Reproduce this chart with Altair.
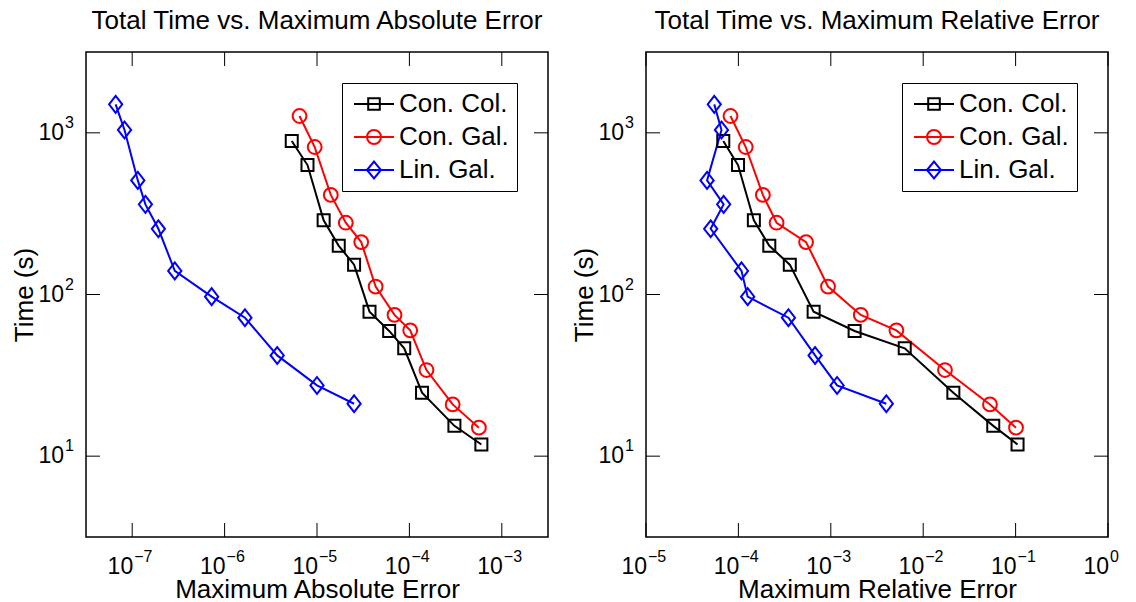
import altair as alt
import pandas as pd

# ---------------- data ----------------
SERIES = ["Con. Col.", "Con. Gal.", "Lin. Gal."]
COLORS = ["#000000", "#ff0000", "#0000ff"]

time_col = [891, 632, 288, 200, 153, 78.3, 59.5, 46.5, 24.7, 15.4, 11.8]
time_gal = [1271, 817, 413, 278, 211, 112, 74.8, 60.0, 34.1, 20.9, 15.0]
time_lin = [1500, 1042, 508, 361, 255, 140, 97, 71.9, 42.0, 27.4, 21.1]

abs_col = [5.33e-6, 7.89e-6, 1.18e-5, 1.72e-5, 2.52e-5, 3.70e-5, 6.04e-5, 8.79e-5, 1.37e-4, 3.07e-4, 6.01e-4]
abs_gal = [6.47e-6, 9.44e-6, 1.41e-5, 2.05e-5, 3.01e-5, 4.31e-5, 6.90e-5, 1.02e-4, 1.53e-4, 2.94e-4, 5.65e-4]
abs_lin = [6.62e-8, 8.26e-8, 1.15e-7, 1.39e-7, 1.92e-7, 2.89e-7, 7.24e-7, 1.66e-6, 3.71e-6, 1.00e-5, 2.52e-5]

rel_col = [6.86e-5, 9.91e-5, 1.47e-4, 2.16e-4, 3.60e-4, 6.52e-4, 1.81e-3, 6.31e-3, 2.12e-2, 5.73e-2, 0.105]
rel_gal = [8.21e-5, 1.20e-4, 1.84e-4, 2.59e-4, 5.40e-4, 9.33e-4, 2.11e-3, 5.13e-3, 1.72e-2, 5.28e-2, 0.101]
rel_lin = [5.48e-5, 6.56e-5, 4.58e-5, 6.92e-5, 5.01e-5, 1.08e-4, 1.26e-4, 3.48e-4, 6.76e-4, 1.17e-3, 3.99e-3]

abs_ticks = [1e-7, 1e-6, 1e-5, 1e-4, 1e-3]
abs_exps = ["\u22127", "\u22126", "\u22125", "\u22124", "\u22123"]
rel_ticks = [1e-5, 1e-4, 1e-3, 1e-2, 1e-1, 1e0]
rel_exps = ["\u22125", "\u22124", "\u22123", "\u22122", "\u22121", "0"]
y_ticks = [10, 100, 1000]
y_exps = ["1", "2", "3"]

rows = []
for name, ts, aa, rr in [(SERIES[0], time_col, abs_col, rel_col),
                         (SERIES[1], time_gal, abs_gal, rel_gal),
                         (SERIES[2], time_lin, abs_lin, rel_lin)]:
    for i, (t, a, r) in enumerate(zip(ts, aa, rr)):
        rows.append({"series": name, "idx": i, "time": t, "abs_err": a, "rel_err": r})
df = pd.DataFrame(rows)
yt = pd.DataFrame({"t": y_ticks, "e": y_exps})

# ---------------- style ----------------
FONT = "Liberation Sans"
W, H = 462, 485
TICK = 14
BIG = 26

marker_paths = [
    "M-1,-1H1V1H-1Z",
    "M-1.15,0A1.15,1.15 0 1,1 1.15,0A1.15,1.15 0 1,1 -1.15,0Z",
    "M-1.1,0L0,-1.4L1.1,0L0,1.4Z",
]
legend_paths = [
    "M-2,0H2M-0.58,-0.58H0.58V0.58H-0.58Z",
    "M-2,0H2M-0.7,0A0.7,0.7 0 1,1 0.7,0A0.7,0.7 0 1,1 -0.7,0Z",
    "M-2,0H2M-0.7,0L0,-0.85L0.7,0L0,0.85Z",
]

yscale = alt.Scale(type="log", domain=[10 ** 0.5, 10 ** 3.5], nice=False)


def panel(xfield, xdomain, xticks, xexps, title, xtitle):
    xt = pd.DataFrame({"t": xticks, "e": xexps})
    xscale = alt.Scale(type="log", domain=xdomain, nice=False)
    xaxis = alt.Axis(labels=False, ticks=False, domain=False, grid=False,
                     titleFont=FONT, titleFontSize=BIG, titleFontWeight="normal",
                     titleColor="black", titlePadding=39)
    yaxis = alt.Axis(labels=False, ticks=False, domain=False, grid=False,
                     titleFont=FONT, titleFontSize=BIG, titleFontWeight="normal",
                     titleColor="black", titlePadding=49, minExtent=0)

    def X(f):
        return alt.X(f, type="quantitative", scale=xscale, axis=xaxis, title=xtitle)

    def Y(f):
        return alt.Y(f, type="quantitative", scale=yscale, axis=yaxis, title="Time (s)")

    leg = alt.Legend(
        title=None, orient="none", legendX=256, legendY=31,
        fillColor="white", strokeColor="black", padding=8,
        labelFont=FONT, labelFontSize=BIG, labelColor="black",
        symbolSize=400, symbolStrokeWidth=2, symbolOffset=11, labelOffset=12,
        rowPadding=7, symbolOpacity=1,
    )

    base = alt.Chart(df)
    lines = base.mark_line(strokeWidth=2).encode(
        x=X(xfield), y=Y("time"),
        color=alt.Color("series:N", scale=alt.Scale(domain=SERIES, range=COLORS), legend=None),
        detail="series:N", order="idx:Q")
    points = base.mark_point(filled=False, strokeWidth=2, size=144, opacity=1).encode(
        x=X(xfield), y=Y("time"),
        color=alt.Color("series:N", scale=alt.Scale(domain=SERIES, range=COLORS), legend=None),
        shape=alt.Shape("series:N", scale=alt.Scale(domain=SERIES, range=marker_paths), legend=None))
    # invisible layer that only feeds the legend (line + marker symbols)
    legend_layer = base.mark_point(filled=False, strokeWidth=2, opacity=0).encode(
        x=X(xfield), y=Y("time"),
        color=alt.Color("series:N", scale=alt.Scale(domain=SERIES, range=COLORS), legend=leg),
        shape=alt.Shape("series:N", scale=alt.Scale(domain=SERIES, range=legend_paths), legend=leg))

    xtc = alt.Chart(xt)
    ytc = alt.Chart(yt)
    tb = xtc.mark_rule(color="black", strokeWidth=1).encode(
        x=X("t"), y=alt.value(H), y2=alt.value(H - TICK))
    tt = xtc.mark_rule(color="black", strokeWidth=1).encode(
        x=X("t"), y=alt.value(0), y2=alt.value(TICK))
    tl = ytc.mark_rule(color="black", strokeWidth=1).encode(
        y=Y("t"), x=alt.value(0), x2=alt.value(TICK))
    tr = ytc.mark_rule(color="black", strokeWidth=1).encode(
        y=Y("t"), x=alt.value(W), x2=alt.value(W - TICK))

    xl_base = xtc.mark_text(text="10", align="right", baseline="alphabetic",
                            font=FONT, fontSize=23, color="black", dx=1).encode(
        x=X("t"), y=alt.value(H + 37))
    xl_exp = xtc.mark_text(align="left", baseline="alphabetic",
                           font=FONT, fontSize=16, color="black", dx=2).encode(
        x=X("t"), y=alt.value(H + 25), text="e:N")
    yl_base = ytc.mark_text(text="10", align="right", baseline="middle",
                            font=FONT, fontSize=23, color="black").encode(
        y=Y("t"), x=alt.value(-22))
    yl_exp = ytc.mark_text(align="left", baseline="alphabetic",
                           font=FONT, fontSize=16, color="black", dy=-5).encode(
        y=Y("t"), x=alt.value(-21), text="e:N")

    return alt.layer(lines, points, legend_layer, tb, tt, tl, tr,
                     xl_base, xl_exp, yl_base, yl_exp).resolve_scale(
        color="independent", shape="independent"
    ).properties(
        width=W, height=H,
        title=alt.TitleParams(text=title, font=FONT, fontSize=BIG, fontWeight="normal",
                              color="black", anchor="middle", baseline="alphabetic", offset=-3))


left = panel("abs_err", [10 ** -7.5, 10 ** -2.5], abs_ticks, abs_exps,
             "Total Time vs. Maximum Absolute Error", "Maximum Absolute Error")
right = panel("rel_err", [1e-5, 1e0], rel_ticks, rel_exps,
              "Total Time vs. Maximum Relative Error", "Maximum Relative Error")

chart = alt.hconcat(left, right, spacing=20).resolve_scale(
    color="independent", shape="independent"
).properties(
    padding={"left": 10, "top": 6, "right": 0, "bottom": 0},
    background="white",
).configure_view(stroke="black", strokeWidth=1.5)

chart.save("out.html", embed_options={"renderer": "svg", "actions": False})
